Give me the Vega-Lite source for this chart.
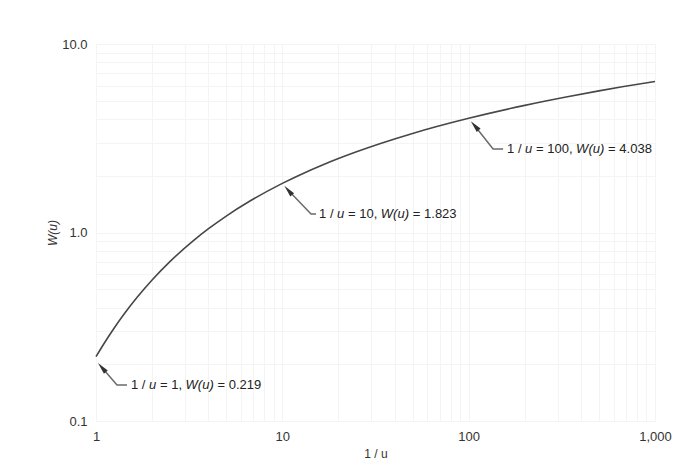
{
  "$schema": "https://vega.github.io/schema/vega-lite/v6.json",
  "width": 559,
  "height": 377,
  "autosize": "none",
  "padding": {"left": 96, "top": 44, "right": 36, "bottom": 55},
  "background": "white",
  "config": {
    "view": {"stroke": null},
    "font": "Liberation Sans",
    "text": {"font": "Liberation Sans", "fontSize": 13, "color": "#222222", "align": "left", "baseline": "middle"}
  },
  "datasets": {
    "curve": [
      {"inv_u": 1, "W": 0.2194},
      {"inv_u": 1.1111, "W": 0.2602},
      {"inv_u": 1.25, "W": 0.3106},
      {"inv_u": 1.4286, "W": 0.3738},
      {"inv_u": 1.6667, "W": 0.4544},
      {"inv_u": 2, "W": 0.5598},
      {"inv_u": 2.5, "W": 0.7024},
      {"inv_u": 3.3333, "W": 0.9057},
      {"inv_u": 4, "W": 1.0443},
      {"inv_u": 5, "W": 1.2227},
      {"inv_u": 6.6667, "W": 1.4645},
      {"inv_u": 10, "W": 1.8229},
      {"inv_u": 12.5, "W": 2.0269},
      {"inv_u": 16.667, "W": 2.2953},
      {"inv_u": 20, "W": 2.4679},
      {"inv_u": 25, "W": 2.6813},
      {"inv_u": 33.333, "W": 2.9591},
      {"inv_u": 50, "W": 3.3547},
      {"inv_u": 66.667, "W": 3.6374},
      {"inv_u": 100, "W": 4.0379},
      {"inv_u": 200, "W": 4.7261},
      {"inv_u": 333.33, "W": 5.2349},
      {"inv_u": 500, "W": 5.6394},
      {"inv_u": 666.67, "W": 5.9266},
      {"inv_u": 1000, "W": 6.3315}
    ],
    "leaders": [
      {"id": 1, "ord": 1, "x": 1.076, "y": 0.1922},
      {"id": 1, "ord": 2, "x": 1.296, "y": 0.1552},
      {"id": 1, "ord": 3, "x": 1.467, "y": 0.1552},
      {"id": 2, "ord": 1, "x": 10.76, "y": 1.675},
      {"id": 2, "ord": 2, "x": 14.26, "y": 1.253},
      {"id": 2, "ord": 3, "x": 15.17, "y": 1.253},
      {"id": 3, "ord": 1, "x": 107.8, "y": 3.686},
      {"id": 3, "ord": 2, "x": 135.2, "y": 2.773},
      {"id": 3, "ord": 3, "x": 153.0, "y": 2.773}
    ],
    "heads": [
      {"x": 1.076, "y": 0.1922},
      {"x": 10.76, "y": 1.675},
      {"x": 107.8, "y": 3.686}
    ],
    "notes": [
      {"x": 1.541, "y": 0.1552, "eq": "= 1,", "wx": 3.025, "val": "= 0.219"},
      {"x": 15.74, "y": 1.253, "eq": "= 10,", "wx": 33.78, "val": "= 1.823"},
      {"x": 160.7, "y": 2.773, "eq": "= 100,", "wx": 377.3, "val": "= 4.038"}
    ]
  },
  "layer": [
    {
      "data": {"name": "curve"},
      "mark": {"type": "line", "interpolate": "monotone", "color": "#474747", "strokeWidth": 1.6},
      "encoding": {
        "x": {
          "field": "inv_u", "type": "quantitative",
          "scale": {"type": "log", "domain": [1, 1000], "nice": false},
          "axis": {
            "title": "1 / u",
            "values": [1, 2, 3, 4, 5, 6, 7, 8, 9, 10, 20, 30, 40, 50, 60, 70, 80, 90, 100, 200, 300, 400, 500, 600, 700, 800, 900, 1000],
            "labelExpr": "datum.value == 1 ? '1' : datum.value == 10 ? '10' : datum.value == 100 ? '100' : datum.value == 1000 ? '1,000' : ''",
            "grid": true, "gridColor": "#f4f4f4", "gridWidth": 1,
            "ticks": false, "tickSize": 0, "domain": false,
            "labelFlush": false, "labelOverlap": false, "labelPadding": 9,
            "labelFont": "Liberation Sans", "labelFontSize": 13, "labelColor": "#333333",
            "titleFont": "Liberation Sans", "titleFontSize": 12, "titleFontWeight": "normal", "titleColor": "#333333", "titlePadding": 5
          }
        },
        "y": {
          "field": "W", "type": "quantitative",
          "scale": {"type": "log", "domain": [0.1, 10], "nice": false},
          "axis": {
            "title": "W(u)",
            "values": [0.1, 0.2, 0.3, 0.4, 0.5, 0.6, 0.7, 0.8, 0.9, 1, 2, 3, 4, 5, 6, 7, 8, 9, 10],
            "labelExpr": "datum.value == 0.1 ? '0.1' : datum.value == 1 ? '1.0' : datum.value == 10 ? '10.0' : ''",
            "grid": true, "gridColor": "#f4f4f4", "gridWidth": 1,
            "ticks": false, "tickSize": 0, "domain": false,
            "labelOverlap": false, "labelPadding": 9,
            "labelFont": "Liberation Sans", "labelFontSize": 13, "labelColor": "#333333",
            "titleFont": "Liberation Sans", "titleFontSize": 12, "titleFontWeight": "normal", "titleFontStyle": "italic", "titleColor": "#333333", "titlePadding": 2
          }
        }
      }
    },
    {
      "data": {"name": "leaders"},
      "mark": {"type": "line", "color": "#6a6a6a", "strokeWidth": 1.5},
      "encoding": {
        "x": {"field": "x", "type": "quantitative"},
        "y": {"field": "y", "type": "quantitative"},
        "detail": {"field": "id"},
        "order": {"field": "ord"}
      }
    },
    {
      "data": {"name": "heads"},
      "mark": {"type": "point", "shape": "M0,-1L0.42,1L-0.42,1Z", "size": 144, "filled": true, "color": "#333333", "opacity": 1, "angle": -41, "strokeWidth": 0},
      "encoding": {
        "x": {"field": "x", "type": "quantitative"},
        "y": {"field": "y", "type": "quantitative"}
      }
    },
    {
      "data": {"name": "notes"},
      "mark": {"type": "text", "text": "1 /"},
      "encoding": {
        "x": {"field": "x", "type": "quantitative"},
        "y": {"field": "y", "type": "quantitative"}
      }
    },
    {
      "data": {"name": "notes"},
      "mark": {"type": "text", "text": "u", "fontStyle": "italic", "dx": 18},
      "encoding": {
        "x": {"field": "x", "type": "quantitative"},
        "y": {"field": "y", "type": "quantitative"}
      }
    },
    {
      "data": {"name": "notes"},
      "mark": {"type": "text", "dx": 29},
      "encoding": {
        "x": {"field": "x", "type": "quantitative"},
        "y": {"field": "y", "type": "quantitative"},
        "text": {"field": "eq"}
      }
    },
    {
      "data": {"name": "notes"},
      "mark": {"type": "text", "text": "W(u)", "fontStyle": "italic"},
      "encoding": {
        "x": {"field": "wx", "type": "quantitative"},
        "y": {"field": "y", "type": "quantitative"}
      }
    },
    {
      "data": {"name": "notes"},
      "mark": {"type": "text", "dx": 32},
      "encoding": {
        "x": {"field": "wx", "type": "quantitative"},
        "y": {"field": "y", "type": "quantitative"},
        "text": {"field": "val"}
      }
    }
  ]
}
